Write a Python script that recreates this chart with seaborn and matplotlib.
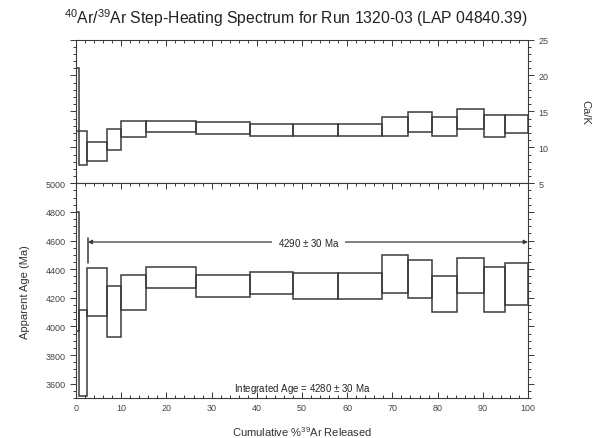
import matplotlib
matplotlib.use('Agg')
import matplotlib.pyplot as plt
from matplotlib.ticker import MultipleLocator
import seaborn as sns
import pandas as pd

# step edges (cumulative % 39Ar released)
edges = [0, 0.7, 2.5, 6.9, 10.0, 15.5, 26.5, 38.5, 48.1, 58.0, 67.8, 73.5, 78.8, 84.4, 90.3, 94.8, 100]

# apparent age, lower / upper bound of each step (Ma)
age_lo = [3966, 3515, 4072, 3925, 4118, 4270, 4207, 4224, 4195, 4195, 4231, 4199, 4102, 4231, 4102, 4148]
age_hi = [4800, 4118, 4406, 4282, 4357, 4417, 4357, 4380, 4371, 4371, 4497, 4465, 4350, 4478, 4415, 4441]

# Ca/K, lower / upper bound of each step
cak_lo = [12.3, 7.5, 8.1, 9.6, 11.4, 12.2, 11.9, 11.6, 11.6, 11.6, 11.6, 12.2, 11.6, 12.6, 11.45, 12.0]
cak_hi = [21.0, 12.3, 10.7, 12.6, 13.7, 13.7, 13.5, 13.3, 13.3, 13.3, 14.2, 14.9, 14.2, 15.3, 14.5, 14.5]

plateau_from = 2.6
plateau_to = 100
plateau_y = 4590
plateau_txt = '4290 $\\pm$ 30 Ma'
integrated_txt = 'Integrated Age = 4280 $\\pm$ 30 Ma'

steps = pd.DataFrame({'left': edges[:-1],
                      'width': [b - a for a, b in zip(edges[:-1], edges[1:])],
                      'age_lo': age_lo, 'age_hi': age_hi,
                      'cak_lo': cak_lo, 'cak_hi': cak_hi})

sns.set_style('ticks')
plt.rcParams['font.family'] = ['Liberation Sans', 'DejaVu Sans']
plt.rcParams['mathtext.fontset'] = 'custom'
plt.rcParams['mathtext.rm'] = 'Liberation Sans'
plt.rcParams['mathtext.it'] = 'Liberation Sans'

line_c = '#3a3a3a'
txt_c = '#444444'

fig = plt.figure(figsize=(5.92, 4.39), dpi=100)
ax_top = fig.add_axes([0.1284, 0.5802, 0.7635, 0.3275])
ax_bot = fig.add_axes([0.1284, 0.0911, 0.7635, 0.4891])

#boxes
ax_top.bar(steps['left'], steps['cak_hi'] - steps['cak_lo'], bottom=steps['cak_lo'],
           width=steps['width'], align='edge', fill=False, edgecolor=line_c, linewidth=1.1)
ax_bot.bar(steps['left'], steps['age_hi'] - steps['age_lo'], bottom=steps['age_lo'],
           width=steps['width'], align='edge', fill=False, edgecolor=line_c, linewidth=1.1)

#axes setup
for ax in (ax_top, ax_bot):
    ax.set_xlim(0, 100)
    ax.xaxis.set_major_locator(MultipleLocator(10))
    ax.xaxis.set_minor_locator(MultipleLocator(2))
    for s in ax.spines.values():
        s.set_visible(True)
        s.set_color(line_c)
        s.set_linewidth(0.8)
    ax.tick_params(axis='x', which='both', direction='in', colors=line_c, labelcolor=txt_c,
                   labelsize=6.5, width=0.7)
    ax.tick_params(axis='x', which='major', length=4)
    ax.tick_params(axis='x', which='minor', length=2.5)
    ax.tick_params(axis='y', which='both', direction='out', left=True, right=True,
                   colors=line_c, labelcolor=txt_c, labelsize=6.5, width=0.7)
    ax.tick_params(axis='y', which='major', length=4)
    ax.tick_params(axis='y', which='minor', length=2.5)

ax_top.set_ylim(5, 25)
ax_top.yaxis.set_major_locator(MultipleLocator(5))
ax_top.yaxis.set_minor_locator(MultipleLocator(1))
ax_top.tick_params(axis='x', which='both', top=True, bottom=False, labelbottom=False)
ax_top.tick_params(axis='y', which='both', labelleft=False, labelright=True)
ax_top.yaxis.set_label_position('right')
ax_top.set_ylabel('Ca/K', rotation=270, fontsize=8, color='#333333', labelpad=30)

ax_bot.set_ylim(3500, 5000)
ax_bot.yaxis.set_major_locator(MultipleLocator(200))
ax_bot.yaxis.set_minor_locator(MultipleLocator(50))
ax_bot.tick_params(axis='x', which='both', top=True, bottom=True)
ax_bot.tick_params(axis='y', which='both', labelleft=True, labelright=False)
ax_bot.set_ylabel('Apparent Age (Ma)', fontsize=8, color='#333333', labelpad=11)
ax_bot.set_xlabel('Cumulative %$^{39}$Ar Released', fontsize=8, color='#333333', labelpad=9)

#plateau
ax_bot.plot([plateau_from, plateau_from], [plateau_y - 145, plateau_y + 30], color=line_c, lw=1.1)
ax_bot.annotate('', xy=(plateau_from, plateau_y), xytext=(plateau_to, plateau_y),
                arrowprops=dict(arrowstyle='<|-|>', color=line_c, lw=0.9,
                                mutation_scale=6, shrinkA=0, shrinkB=0))
ax_bot.text(51.5, plateau_y, plateau_txt, ha='center', va='center', fontsize=7, color='#222222',
            bbox=dict(facecolor='white', edgecolor='none', pad=4))
ax_bot.text(50, 3572, integrated_txt, ha='center', va='center', fontsize=7, color='#222222')

fig.text(0.5, 0.958, '$^{40}$Ar/$^{39}$Ar Step-Heating Spectrum for Run 1320-03 (LAP 04840.39)',
         ha='center', va='center', fontsize=11.3, color='#222222')

fig.savefig('out.png', dpi=100)
